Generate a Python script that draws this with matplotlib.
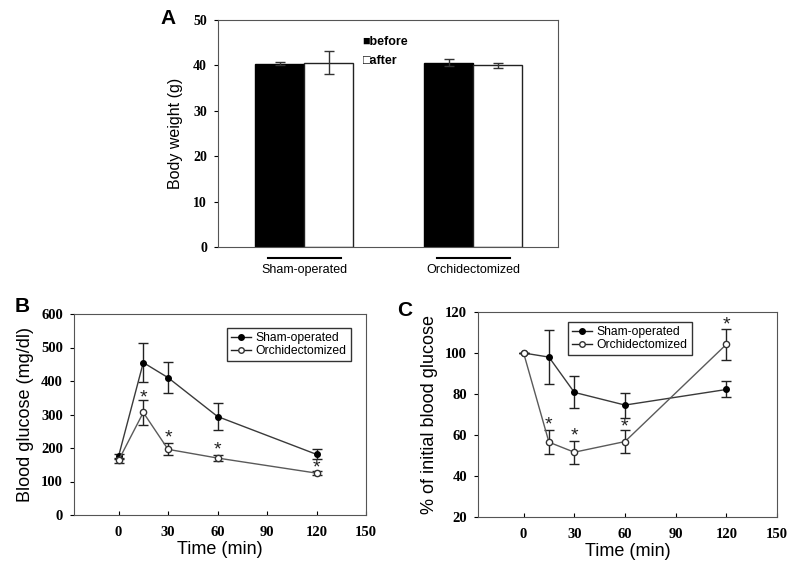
import matplotlib
matplotlib.use("Agg")
import matplotlib.pyplot as plt
from matplotlib.lines import Line2D
import numpy as np

# panel A - body weight
groups = ["Sham-operated", "Orchidectomized"]
bw_before = [40.4, 40.6]
bw_before_err = [0.4, 0.8]
bw_after = [40.6, 40.0]
bw_after_err = [2.6, 0.6]

# panels B / C - time course
time = [0, 15, 30, 60, 120]
glu_sham = [175, 455, 410, 294, 181]
glu_sham_err = [8, 58, 46, 40, 15]
glu_orx = [163, 306, 196, 170, 125]
glu_orx_err = [8, 36, 18, 10, 5]
glu_stars = [(15, 355), (30, 237), (60, 200), (120, 146)]

pct_sham = [100, 98.0, 80.8, 74.6, 82.2]
pct_sham_err = [0, 13.0, 7.8, 6.1, 3.9]
pct_orx = [100, 56.5, 51.6, 56.8, 104.2]
pct_orx_err = [0, 5.7, 5.7, 5.5, 7.5]
pct_stars = [(15, 66), (30, 60.5), (60, 65), (120, 114.5)]

sans = ["Liberation Sans", "DejaVu Sans"]
spine_col = "#555555"

fig = plt.figure(figsize=(7.94, 5.72), dpi=100)

# ---------------- A ----------------
axA = fig.add_axes([218/794, 1-247/572, 340/794, 227/572])
x = np.arange(len(groups))
w = 0.29
axA.bar(x - w/2, bw_before, w, color="black", edgecolor="black", lw=1,
        yerr=bw_before_err, capsize=3.5, error_kw=dict(elinewidth=1, capthick=1, ecolor="#333"))
axA.bar(x + w/2, bw_after, w, color="white", edgecolor="#222", lw=1,
        yerr=bw_after_err, capsize=3.5, error_kw=dict(elinewidth=1, capthick=1, ecolor="#333"))
axA.set_xlim(-0.51, 1.5)
axA.set_ylim(0, 50)
axA.set_yticks([0, 10, 20, 30, 40, 50])
axA.set_xticks([])
axA.tick_params(axis="y", direction="out", length=3, pad=5, labelsize=10)
for lab in axA.get_yticklabels():
    lab.set_fontfamily("Liberation Serif")
    lab.set_fontweight("bold")
for s in axA.spines.values():
    s.set_color(spine_col)
axA.set_ylabel("Body weight (g)", fontsize=11.5, family=sans, labelpad=7)
trans = axA.get_xaxis_transform()
for xi, g in zip(x, groups):
    axA.plot([xi - 0.215, xi + 0.215], [-0.048, -0.048], color="black", lw=1.5,
             transform=trans, clip_on=False)
    axA.text(xi, -0.075, g, transform=trans, ha="center", va="top",
             fontsize=9, family=sans)
axA.text(0.425, 0.905, "\u25a0before", transform=axA.transAxes, fontsize=9,
         fontweight="bold", family=sans, va="center")
axA.text(0.425, 0.82, "\u25a1after", transform=axA.transAxes, fontsize=9,
         fontweight="bold", family=sans, va="center")
fig.text(160/794, 1-18/572, "A", fontsize=15, fontweight="bold", family=sans,
         ha="left", va="center")


def line_panel(ax, sham, sham_err, orx, orx_err, stars, ylim, yticks, ylabel, leg_anchor):
    ax.errorbar(time, sham, yerr=sham_err, color="#3a3a3a", lw=1, marker="o",
                ms=4, mfc="black", mec="black", capsize=3.5, elinewidth=1,
                capthick=1, ecolor="#222", zorder=3)
    ax.errorbar(time, orx, yerr=orx_err, color="#5a5a5a", lw=1, marker="o",
                ms=4.5, mfc="white", mec="#333", capsize=3.5, elinewidth=1,
                capthick=1, ecolor="#222", zorder=4)
    for sx, sy in stars:
        ax.annotate("*", (sx, sy), xytext=(0, -1.5), textcoords="offset points",
                    ha="center", va="center", fontsize=14, family=sans, color="#222")
    ax.set_xlim(-27, 150)
    ax.set_ylim(*ylim)
    ax.set_xticks([0, 30, 60, 90, 120, 150])
    ax.set_yticks(yticks)
    ax.tick_params(axis="x", direction="in", length=3, pad=8, labelsize=10.5)
    ax.tick_params(axis="y", direction="out", length=3, pad=5, labelsize=10.5)
    for lab in ax.get_xticklabels() + ax.get_yticklabels():
        lab.set_fontfamily("Liberation Serif")
        lab.set_fontweight("bold")
    for s in ax.spines.values():
        s.set_color(spine_col)
    ax.set_xlabel("Time (min)", fontsize=13, family=sans, labelpad=1)
    ax.set_ylabel(ylabel, fontsize=13, family=sans, labelpad=5)
    handles = [Line2D([], [], color="#222", lw=1, marker="o", ms=4, mfc="black", mec="black"),
               Line2D([], [], color="#222", lw=1, marker="o", ms=4, mfc="white", mec="#333")]
    leg = ax.legend(handles, ["Sham-operated", "Orchidectomized"], loc="upper left",
                    bbox_to_anchor=leg_anchor, fancybox=False,
                    edgecolor="#333", framealpha=1, handlelength=1.6,
                    handletextpad=0.4, borderpad=0.35, labelspacing=0.05,
                    borderaxespad=0, prop=dict(family=sans, size=8.7))
    leg.get_frame().set_linewidth(1)


axB = fig.add_axes([74/794, 1-515/572, 292/794, 201/572])
line_panel(axB, glu_sham, glu_sham_err, glu_orx, glu_orx_err, glu_stars,
           (0, 600), range(0, 601, 100), "Blood glucose (mg/dl)", (0.524, 0.93))
fig.text(15/794, 1-306/572, "B", fontsize=15, fontweight="bold", family=sans,
         ha="left", va="center")

axC = fig.add_axes([478/794, 1-517/572, 299/794, 205/572])
line_panel(axC, pct_sham, pct_sham_err, pct_orx, pct_orx_err, pct_stars,
           (20, 120), range(20, 121, 20), "% of initial blood glucose", (0.301, 0.951))
fig.text(397/794, 1-310/572, "C", fontsize=15, fontweight="bold", family=sans,
         ha="left", va="center")

fig.savefig("out.png", dpi=100)
